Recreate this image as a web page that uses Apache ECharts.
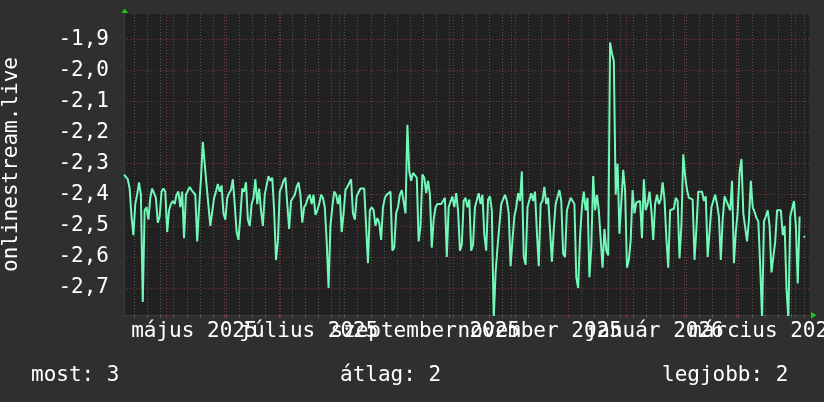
<!DOCTYPE html>
<html><head><meta charset="utf-8">
<script src="https://cdn.jsdelivr.net/npm/echarts@6/dist/echarts.min.js"></script>
<style>html,body{margin:0;padding:0;background:#2f2f2f}#c{width:824px;height:402px}</style>
</head><body><div id="c"></div>
<script>
// ---- data (daily values from 2025-04-08) ----
const startDate = '2025-04-08';
const values = [
-2.335,-2.34,-2.35,-2.38,-2.47,-2.53,-2.43,-2.40,-2.36,-2.40,
-2.745,-2.45,-2.44,-2.48,-2.41,-2.38,-2.375,-2.41,-2.49,-2.47,
-2.39,-2.38,-2.39,-2.52,-2.45,-2.43,-2.42,-2.43,-2.40,-2.39,
-2.44,-2.39,-2.54,-2.40,-2.40,-2.375,-2.385,-2.38,-2.40,-2.55,
-2.44,-2.35,-2.23,-2.30,-2.37,-2.37,-2.50,-2.505,-2.41,-2.39,
-2.365,-2.39,-2.37,-2.46,-2.48,-2.41,-2.395,-2.385,-2.35,-2.43,
-2.52,-2.545,-2.47,-2.38,-2.39,-2.36,-2.48,-2.50,-2.43,-2.41,
-2.35,-2.43,-2.38,-2.45,-2.50,-2.40,-2.37,-2.34,-2.355,-2.345,
-2.45,-2.61,-2.55,-2.39,-2.375,-2.355,-2.345,-2.43,-2.51,-2.42,
-2.42,-2.40,-2.375,-2.36,-2.40,-2.49,-2.44,-2.43,-2.41,-2.40,
-2.43,-2.40,-2.465,-2.45,-2.43,-2.40,-2.41,-2.44,-2.55,-2.70,
-2.50,-2.44,-2.39,-2.40,-2.43,-2.40,-2.52,-2.46,-2.385,-2.375,
-2.37,-2.35,-2.46,-2.48,-2.405,-2.40,-2.38,-2.385,-2.38,-2.50,
-2.62,-2.45,-2.44,-2.45,-2.50,-2.475,-2.49,-2.545,-2.44,-2.41,
-2.40,-2.40,-2.39,-2.58,-2.57,-2.46,-2.44,-2.40,-2.385,-2.38,
-2.46,-2.175,-2.325,-2.355,-2.33,-2.325,-2.345,-2.55,-2.50,-2.335,
-2.345,-2.395,-2.355,-2.40,-2.57,-2.48,-2.44,-2.43,-2.43,-2.43,
-2.42,-2.41,-2.60,-2.44,-2.44,-2.405,-2.44,-2.395,-2.45,-2.58,
-2.56,-2.42,-2.41,-2.44,-2.415,-2.58,-2.56,-2.44,-2.44,-2.395,
-2.43,-2.40,-2.53,-2.58,-2.415,-2.405,-2.45,-2.80,-2.65,-2.57,
-2.50,-2.43,-2.43,-2.40,-2.42,-2.46,-2.63,-2.545,-2.47,-2.44,
-2.395,-2.42,-2.325,-2.60,-2.625,-2.44,-2.44,-2.395,-2.42,-2.39,
-2.52,-2.63,-2.43,-2.42,-2.375,-2.43,-2.41,-2.41,-2.615,-2.51,
-2.43,-2.43,-2.385,-2.42,-2.59,-2.60,-2.45,-2.43,-2.41,-2.405,
-2.43,-2.665,-2.70,-2.535,-2.44,-2.39,-2.45,-2.41,-2.665,-2.57,
-2.34,-2.45,-2.40,-2.45,-2.45,-2.635,-2.51,-2.58,-2.595,-1.91,
-1.945,-1.97,-2.40,-2.30,-2.525,-2.525,-2.32,-2.385,-2.635,-2.61,
-2.545,-2.385,-2.46,-2.425,-2.43,-2.42,-2.54,-2.35,-2.45,-2.43,
-2.39,-2.45,-2.545,-2.43,-2.40,-2.43,-2.415,-2.36,-2.415,-2.54,
-2.635,-2.45,-2.445,-2.445,-2.41,-2.42,-2.605,-2.50,-2.27,-2.34,
-2.385,-2.41,-2.415,-2.415,-2.61,-2.51,-2.39,-2.385,-2.39,-2.42,
-2.405,-2.60,-2.52,-2.44,-2.42,-2.40,-2.43,-2.47,-2.61,-2.48,
-2.405,-2.42,-2.42,-2.45,-2.355,-2.62,-2.52,-2.455,-2.33,-2.285,
-2.46,-2.455,-2.55,-2.48,-2.355,-2.44,-2.455,-2.475,-2.485,-2.63,
-2.80,-2.485,-2.47,-2.45,-2.50,-2.65,-2.60,-2.55,-2.45,-2.45,
-2.45,-2.53,-2.50,-2.70,-2.80,-2.47,-2.465,-2.42,-2.50,-2.685,
-2.47,null,-2.535,-2.535
];
const monthStarts = ['2025-05-01','2025-06-01','2025-07-01','2025-08-01','2025-09-01','2025-10-01',
  '2025-11-01','2025-12-01','2026-01-01','2026-02-01','2026-03-01','2026-04-01'];
const labelMonths = ['2025-05-01','2025-07-01','2025-09-01','2025-11-01','2026-01-01','2026-03-01'];
const labelTexts = ['május 2025','július 2025','szeptember 2025','november 2025','január 2026','március 2026'];
const firstMonday = '2025-04-14';
const yTicks = [-2.7,-2.6,-2.5,-2.4,-2.3,-2.2,-2.1,-2.0,-1.9];
const axisName = 'onlinestream.live';
const legendNames = ['most','átlag','legjobb'];
const legendValues = [3,2,2];

// ---- helpers ----
const DAY = 86400000;
function utc(s){ const p = s.split('-').map(Number); return Date.UTC(p[0], p[1]-1, p[2]); }
const START = utc(startDate);
function dayOf(s){ return (utc(s) - START) / DAY; }
const X_MIN = 0.5, X_MAX = 365.5;
const seriesData = values.map((v, i) => [i + 0.5, v]);
const weekTicks = []; for (let d = dayOf(firstMonday); d < X_MAX; d += 7) weekTicks.push(d);
const monthTicks = monthStarts.map(dayOf);
const labelPos = labelMonths.map(s => dayOf(s) + 15);
// split the (overlapping) labels over two label axes so none gets auto-hidden
const labelPosA = labelPos.filter((_, i) => i % 2 === 0);
const labelPosB = labelPos.filter((_, i) => i % 2 === 1);

const FONT = '"DejaVu Sans Mono", monospace';
const FS = 21;
const GRAY = '#555555', RED = '#7a3636', TXT = '#ffffff';

function labelText(v){ const i = labelPos.findIndex(p => Math.abs(p - v) < 0.01); return i >= 0 ? labelTexts[i] : ''; }

const chart = echarts.init(document.getElementById('c'), null, {renderer: 'canvas'});
const baseX = {type: 'value', min: X_MIN, max: X_MAX, gridIndex: 0, position: 'bottom', offset: 0};
function labelAxis(vals){
  return Object.assign({}, baseX, {
    axisLine: {show: false}, axisTick: {show: false}, splitLine: {show: false},
    axisLabel: {show: true, customValues: vals, hideOverlap: false, showMinLabel: true, showMaxLabel: true,
      formatter: labelText, color: TXT, fontFamily: FONT, fontSize: FS, margin: 6}
  });
}
chart.setOption({
  animation: false,
  backgroundColor: '#2f2f2f',
  grid: {left: 124, top: 14, width: 685, height: 301, show: true, backgroundColor: '#212121', borderWidth: 0,
    containLabel: false, outerBoundsMode: 'none'},
  xAxis: [
    Object.assign({}, baseX, {
      axisLine: {show: true, lineStyle: {color: '#3c3c3c'}},
      axisTick: {show: true, customValues: weekTicks, length: 3, lineStyle: {color: GRAY}},
      axisLabel: {show: false},
      splitLine: {show: true, lineStyle: {color: GRAY, type: [1, 2], width: 1}}
    }),
    Object.assign({}, baseX, {
      axisLine: {show: false},
      axisTick: {show: true, customValues: monthTicks, length: 3, lineStyle: {color: RED}},
      axisLabel: {show: false},
      splitLine: {show: true, lineStyle: {color: RED, type: [1, 2], width: 1}}
    }),
    labelAxis(labelPosA),
    labelAxis(labelPosB)
  ],
  yAxis: {
    type: 'value', min: -2.7868, max: -1.8186,
    axisLine: {show: true, lineStyle: {color: '#3c3c3c'}},
    axisTick: {show: false, customValues: yTicks},
    axisLabel: {customValues: yTicks, showMinLabel: true, showMaxLabel: true,
      formatter: v => v.toFixed(1).replace('.', ','),
      color: TXT, fontFamily: FONT, fontSize: FS, margin: 15},
    splitLine: {show: true, lineStyle: {color: RED, type: [1, 2], width: 1}}
  },
  series: [{
    type: 'line', xAxisIndex: 0, yAxisIndex: 0, data: seriesData,
    showSymbol: false, connectNulls: false, clip: true,
    lineStyle: {color: '#72f8b9', width: 2}, z: 5
  }],
  graphic: [
    {type: 'polygon', shape: {points: [[121.5, 13], [128, 13], [124.8, 8.5]]}, style: {fill: '#1ec81e'}, z: 100},
    {type: 'polygon', shape: {points: [[811, 312], [811, 318.5], [816.5, 315.2]]}, style: {fill: '#1ec81e'}, z: 100},
    {type: 'text', x: 12, y: 164.5, rotation: Math.PI / 2,
      style: {text: axisName, fill: TXT, font: FS + 'px ' + FONT, align: 'center', verticalAlign: 'middle'}},
    {type: 'text', x: 31, y: 376, style: {text: legendNames[0] + ': ' + legendValues[0], fill: TXT, font: FS + 'px ' + FONT, verticalAlign: 'middle'}},
    {type: 'text', x: 340, y: 376, style: {text: legendNames[1] + ': ' + legendValues[1], fill: TXT, font: FS + 'px ' + FONT, verticalAlign: 'middle'}},
    {type: 'text', x: 662, y: 376, style: {text: legendNames[2] + ': ' + legendValues[2], fill: TXT, font: FS + 'px ' + FONT, verticalAlign: 'middle'}}
  ]
});
</script></body></html>
